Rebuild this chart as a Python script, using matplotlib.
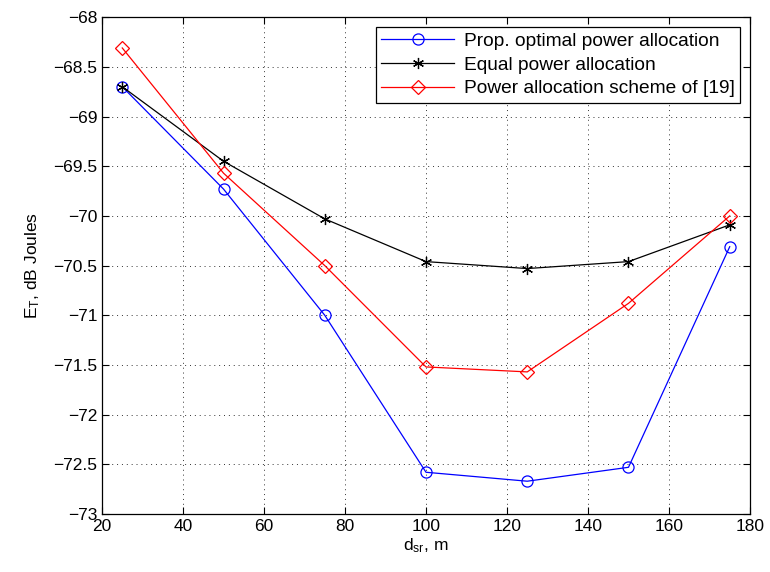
import numpy as np
import matplotlib
matplotlib.use("Agg")
import matplotlib.pyplot as plt

plt.rcParams['font.family'] = ['Liberation Sans', 'DejaVu Sans']
plt.rcParams['mathtext.default'] = 'regular'

# distances d_sr (m)
d_sr = [25, 50, 75, 100, 125, 150, 175]
# total energy, dB Joules
prop_opt = [-68.70, -69.73, -71.00, -72.58, -72.67, -72.53, -70.31]
equal_pw = [-68.70, -69.45, -70.03, -70.46, -70.53, -70.46, -70.09]
scheme19 = [-68.31, -69.57, -70.50, -71.52, -71.57, -70.88, -70.00]

xticks = np.arange(20, 181, 20)
yticks = np.arange(-73, -67.9, 0.5)

fig = plt.figure(figsize=(7.7, 5.72), dpi=100)
ax = fig.add_axes([0.1325, 0.1014, 0.8415, 0.8686])

ax.plot(d_sr, prop_opt, color='blue', lw=0.9, marker='o', ms=8,
        mfc='none', mec='blue', mew=0.9, label='Prop. optimal power allocation')
ax.plot(d_sr, equal_pw, color='black', lw=0.9, marker=(6, 2, 0), ms=8,
        mec='black', mew=0.9, label='Equal power allocation')
ax.plot(d_sr, scheme19, color='red', lw=0.9, marker='D', ms=7.5,
        mfc='none', mec='red', mew=0.9, label='Power allocation scheme of [19]')

ax.set_xlim(20, 180)
ax.set_ylim(-73, -68)
ax.set_xticks(xticks)
ax.set_yticks(yticks)
ax.set_xticklabels([str(v) for v in xticks])
ax.set_yticklabels([('%g' % v).replace('-', '\u2212') for v in yticks])
ax.tick_params(direction='in', length=5, width=0.8, labelsize=12.5, top=True, right=True)
ax.grid(True, linestyle=(0, (1, 4)), color='black', lw=0.7, alpha=0.8)
for s in ax.spines.values():
    s.set_linewidth(0.9)

ax.set_xlabel('d$_{sr}$, m', fontsize=12.5, labelpad=2)
ax.set_ylabel('E$_T$, dB Joules', fontsize=12.5, labelpad=8)

leg = ax.legend(loc='upper right', fontsize=13.8, fancybox=False, edgecolor='black',
                framealpha=1, borderaxespad=0.5, handlelength=3.8,
                labelspacing=0.33, borderpad=0.3, handletextpad=0.5)
leg.get_frame().set_linewidth(0.9)

fig.savefig('out.png', dpi=100)
